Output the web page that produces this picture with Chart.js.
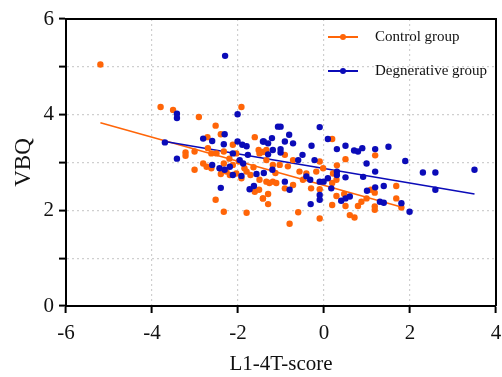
<!DOCTYPE html>
<html>
<head>
<meta charset="utf-8">
<script src="https://cdn.jsdelivr.net/npm/chart.js@4/dist/chart.umd.min.js"></script>
<style>
  html, body { margin: 0; padding: 0; background: #fff; }
  #wrap { width: 502px; height: 377px; }
</style>
</head>
<body>
<div id="wrap"><canvas id="chart" width="502" height="377"></canvas></div>
<script>
// Control group points [T-score, VBQ]
var controlPoints = [
  [-5.2, 5.05], [-3.80, 4.16], [-3.51, 4.10], [-2.91, 3.95], [-1.92, 4.16], [-2.52, 3.77],
  [-2.40, 3.59], [-2.71, 3.53], [-3.22, 3.21], [-3.22, 3.14], [-3.01, 3.23], [-2.70, 3.30],
  [-2.62, 3.19], [-2.50, 3.19], [-2.33, 3.23], [-2.81, 2.98], [-2.73, 2.91], [-2.62, 2.88],
  [-3.01, 2.85], [-2.33, 2.98], [-2.12, 3.37], [-2.04, 3.19], [-2.12, 2.95], [-2.27, 2.81],
  [-2.19, 2.74], [-2.04, 2.77], [-1.92, 2.67], [-1.80, 2.81], [-2.40, 2.76], [-2.52, 2.22],
  [-2.33, 1.97], [-1.80, 1.95], [-1.61, 3.53], [-1.52, 3.26], [-1.42, 3.22], [-1.34, 3.05],
  [-1.19, 2.95], [-1.50, 2.64], [-1.51, 2.43], [-1.61, 2.39], [-1.42, 2.25], [-1.30, 2.34],
  [-1.30, 2.13], [-1.19, 2.60], [-1.13, 2.78], [-1.27, 2.57], [-1.71, 2.74], [-1.64, 2.90],
  [0.19, 3.49], [0.50, 3.07], [1.19, 3.15], [-0.10, 3.02], [-0.72, 3.05], [-0.91, 3.16],
  [-1.34, 3.26], [-1.50, 3.19], [-1.03, 2.95], [-0.84, 2.92], [-0.57, 2.81], [-0.41, 2.77],
  [-0.18, 2.81], [-0.02, 2.88], [0.21, 2.77], [0.30, 2.94], [0.29, 2.64], [0.19, 2.57],
  [-1.34, 2.60], [-1.11, 2.57], [-0.91, 2.46], [-0.72, 2.53], [-0.49, 2.64], [-0.30, 2.46],
  [-0.10, 2.44], [-1.42, 2.25], [-0.60, 1.96], [-0.80, 1.72], [-0.10, 1.83], [0.19, 2.11],
  [0.50, 2.09], [0.60, 1.90], [0.71, 1.85], [0.79, 2.09], [0.87, 2.18], [0.99, 2.25],
  [1.09, 2.43], [1.18, 2.37], [1.18, 2.08], [1.18, 2.01], [1.68, 2.51], [1.68, 2.25],
  [1.80, 2.06], [0.29, 2.30], [0.47, 2.34], [-1.85, 2.88], [-1.98, 3.02], [-2.20, 3.08]
];

// Degenerative group points [T-score, VBQ]
var degenPoints = [
  [-2.30, 5.23], [-3.42, 4.02], [-3.42, 3.93], [-3.70, 3.42], [-3.42, 3.08], [-2.01, 4.01],
  [-2.81, 3.50], [-2.60, 3.45], [-2.31, 3.59], [-2.33, 3.38], [-2.01, 3.44], [-1.90, 3.37],
  [-1.80, 3.34], [-2.12, 3.19], [-1.96, 3.05], [-1.88, 2.98], [-1.77, 3.16], [-2.60, 2.95],
  [-2.43, 2.88], [-2.31, 2.85], [-2.19, 2.91], [-2.12, 2.74], [-1.92, 2.72], [-2.40, 2.47],
  [-1.40, 3.44], [-1.30, 3.40], [-1.21, 3.51], [-1.19, 3.26], [-1.30, 3.17], [-1.40, 2.78],
  [-1.57, 2.76], [-1.73, 2.44], [-1.63, 2.51], [-1.07, 3.75], [-1.01, 3.75], [-0.10, 3.74],
  [-0.81, 3.58], [-1.42, 3.44], [-0.91, 3.44], [-0.72, 3.40], [-1.01, 3.28], [-1.01, 3.21],
  [-0.29, 3.35], [0.09, 3.49], [0.30, 3.28], [0.50, 3.35], [0.70, 3.25], [0.79, 3.23],
  [0.89, 3.30], [1.19, 3.28], [1.50, 3.33], [1.89, 3.03], [2.30, 2.79], [2.59, 2.79],
  [3.50, 2.85], [2.59, 2.43], [1.99, 1.97], [1.80, 2.15], [0.99, 2.98], [1.19, 2.81],
  [0.50, 2.69], [0.91, 2.70], [0.30, 2.81], [0.30, 2.74], [0.17, 2.46], [-0.10, 2.60],
  [-0.01, 2.60], [-0.10, 2.32], [-0.10, 2.22], [-0.31, 2.13], [0.40, 2.20], [0.50, 2.25],
  [0.60, 2.29], [1.00, 2.41], [1.19, 2.48], [1.39, 2.51], [1.30, 2.18], [1.39, 2.16],
  [-0.32, 2.64], [-0.50, 3.16], [-0.22, 3.05], [-0.60, 3.05], [-1.20, 2.85], [-0.91, 2.60],
  [-0.80, 2.43], [-0.41, 2.71], [0.09, 2.67]
];

// Fitted lines (end points)
var controlFit = [[-5.2, 3.83], [1.84, 2.06]];
var degenFit = [[-3.7, 3.44], [3.5, 2.34]];

var seriesNames = ['Control group', 'Degnerative group'];
var xTicks = [-6, -4, -2, 0, 2, 4];
var yTicks = [0, 2, 4, 6];

var ORANGE = '#FF6508';
var BLUE = '#0B0BB8';
var FONT = "'Liberation Serif', 'Times New Roman', serif";

function toXY(arr) {
    return arr.map(function(p) { return { x: p[0], y: p[1] }; });
}

// Box around the plot + legend inside the plot
var framePlugin = {
    id: 'frame',
    afterDraw: function(chart) {
        var ctx = chart.ctx;
        var a = chart.chartArea;
        ctx.save();
        ctx.strokeStyle = '#000';
        ctx.lineWidth = 2;
        ctx.beginPath();
        ctx.moveTo(a.left, a.top);
        ctx.lineTo(a.right, a.top);
        ctx.lineTo(a.right, a.bottom);
        ctx.stroke();

        var items = [[seriesNames[0], ORANGE, 37], [seriesNames[1], BLUE, 71]];
        ctx.font = '15px ' + FONT;
        ctx.textBaseline = 'middle';
        items.forEach(function(it) {
            ctx.strokeStyle = it[1];
            ctx.fillStyle = it[1];
            ctx.lineWidth = 2;
            ctx.beginPath();
            ctx.moveTo(328, it[2]);
            ctx.lineTo(358, it[2]);
            ctx.stroke();
            ctx.beginPath();
            ctx.arc(343, it[2], 3, 0, Math.PI * 2);
            ctx.fill();
            ctx.fillStyle = '#111';
            ctx.fillText(it[0], 375, it[2]);
        });
        ctx.restore();
    }
};

var ctx = document.getElementById('chart').getContext('2d');
new Chart(ctx, {
    type: 'scatter',
    data: {
        datasets: [
            {
                label: seriesNames[1],
                data: toXY(degenPoints),
                backgroundColor: BLUE,
                borderColor: BLUE,
                pointRadius: 3.2,
                borderWidth: 0
            },
            {
                label: seriesNames[0],
                data: toXY(controlPoints),
                backgroundColor: ORANGE,
                borderColor: ORANGE,
                pointRadius: 3.2,
                borderWidth: 0
            },
            {
                label: 'fit2',
                data: toXY(degenFit),
                showLine: true,
                borderColor: BLUE,
                borderWidth: 1.6,
                pointRadius: 0
            },
            {
                label: 'fit1',
                data: toXY(controlFit),
                showLine: true,
                borderColor: ORANGE,
                borderWidth: 1.6,
                pointRadius: 0
            }
        ]
    },
    options: {
        responsive: false,
        animation: false,
        devicePixelRatio: 1,
        layout: { padding: { top: 19, right: 6, left: 0, bottom: 0 } },
        plugins: {
            legend: { display: false },
            tooltip: { enabled: false }
        },
        scales: {
            x: {
                type: 'linear',
                min: -6,
                max: 4,
                afterBuildTicks: function(scale) {
                    scale.ticks = xTicks.map(function(v) { return { value: v }; });
                },
                afterFit: function(scale) {
                    scale.height = 71;
                    scale.paddingLeft = 0;
                    scale.paddingRight = 0;
                },
                ticks: {
                    color: '#111',
                    font: { family: FONT, size: 21 },
                    padding: 8,
                    maxRotation: 0
                },
                grid: {
                    color: function(c) {
                        return (c.tick && (c.tick.value === -6 || c.tick.value === 4)) ? 'rgba(0,0,0,0)' : '#cfcfcf';
                    },
                    lineWidth: 1.2,
                    tickLength: 7,
                    tickWidth: 2,
                    tickColor: '#000',
                    tickBorderDash: []
                },
                border: { display: true, color: '#000', width: 2, dash: [2, 3] },
                title: {
                    display: true,
                    text: 'L1-4T-score',
                    color: '#111',
                    font: { family: FONT, size: 21 },
                    padding: { top: 5, bottom: 0 }
                }
            },
            y: {
                type: 'linear',
                min: 0,
                max: 6,
                ticks: {
                    stepSize: 1,
                    color: '#111',
                    font: { family: FONT, size: 21 },
                    padding: 5,
                    callback: function(v) { return yTicks.indexOf(v) >= 0 ? String(v) : ''; }
                },
                afterFit: function(scale) { scale.width = 66; },
                grid: {
                    color: function(c) {
                        return (c.tick && (c.tick.value === 0 || c.tick.value === 6)) ? 'rgba(0,0,0,0)' : '#cfcfcf';
                    },
                    lineWidth: 1.2,
                    tickLength: 7,
                    tickWidth: 2,
                    tickColor: '#000',
                    tickBorderDash: []
                },
                border: { display: true, color: '#000', width: 2, dash: [2, 3] },
                title: {
                    display: true,
                    text: 'VBQ',
                    color: '#111',
                    font: { family: FONT, size: 23 },
                    padding: { top: 10, bottom: 0 }
                }
            }
        }
    },
    plugins: [framePlugin]
});
</script>
</body>
</html>
